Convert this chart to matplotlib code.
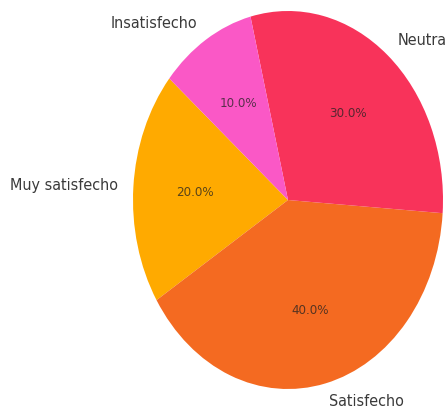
import matplotlib
matplotlib.use("Agg")
import matplotlib.pyplot as plt

# satisfaction survey shares
labels = ["Muy satisfecho", "Satisfecho", "Neutral", "Insatisfecho"]
shares = [20, 40, 30, 10]
colors = ["#FFAA00", "#F46A21", "#F8335A", "#FA58C6"]

W, H = 445, 408
fig = plt.figure(figsize=(W / 100, H / 100), dpi=100)
ax = fig.add_axes([0, 0, 1, 1])

wedges, texts, autotexts = ax.pie(
    shares, labels=labels, colors=colors, autopct="%1.1f%%",
    startangle=140, counterclock=True,
    textprops={"fontsize": 11.5, "color": "#3a3a3a", "fontstretch": "condensed"},
)
for t in autotexts:
    t.set_fontsize(9.5)
    t.set_color("#222222")
    t.set_alpha(0.75)

# stretched layout: pie is wider in y than in x
cx, cy, rx, ry = 288, 208, 155, 189
ax.set_aspect("auto")
ax.set_xlim(-cx / rx, (W - cx) / rx)
ax.set_ylim(-cy / ry, (H - cy) / ry)
ax.axis("off")

fig.savefig("out.png", dpi=100)
